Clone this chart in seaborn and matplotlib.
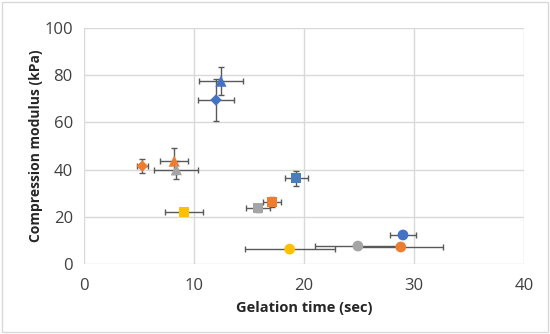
import pandas as pd
import matplotlib.pyplot as plt
import seaborn as sns

# --- Dados ---
gel_time = [29.0, 28.8, 24.9, 18.7, 19.3, 17.1, 15.8, 9.1, 12.0, 5.3, 12.45, 8.2, 8.4]
gel_time_err = [1.2, 3.8, 3.9, 4.1, 1.05, 0.85, 1.1, 1.7, 1.6, 0.5, 2.0, 1.3, 2.0]
modulus = [12.3, 7.2, 7.6, 6.3, 36.4, 26.3, 23.7, 22.0, 69.5, 41.5, 77.5, 43.6, 40.0]
modulus_err = [0.6, 0.5, 0.5, 0.5, 3.2, 2.0, 1.5, 0.6, 9.0, 3.0, 6.0, 5.5, 3.8]
series_color = ['blue', 'orange', 'gray', 'yellow',
                'blue2', 'orange', 'gray', 'yellow',
                'blue', 'orange',
                'blue', 'orange', 'gray']
series_shape = ['circle'] * 4 + ['square'] * 4 + ['diamond'] * 2 + ['triangle'] * 3

df = pd.DataFrame({
    'x': gel_time, 'xerr': gel_time_err,
    'y': modulus, 'yerr': modulus_err,
    'cor': series_color, 'forma': series_shape,
})

palette = {'blue': '#4472C4', 'blue2': '#4A7EBB', 'orange': '#ED7D31',
           'gray': '#A5A5A5', 'yellow': '#FFC000'}
markers = {'circle': 'o', 'square': 's', 'diamond': 'D', 'triangle': '^'}
sizes = {'circle': 60, 'square': 55, 'diamond': 35, 'triangle': 65}

# --- Estilo ---
sns.set_theme(style="white")
plt.rcParams['font.family'] = ['Open Sans', 'DejaVu Sans']

fig = plt.figure(figsize=(5.5, 3.34), dpi=100)
ax = fig.add_axes([0.1527, 0.2096, 0.8, 0.7064])

ax.errorbar(df['x'], df['y'], xerr=df['xerr'], yerr=df['yerr'], fmt='none',
            ecolor='#595959', elinewidth=1, capsize=2.5, capthick=1, zorder=2)

for forma, grp in df.groupby('forma'):
    sns.scatterplot(data=grp, x='x', y='y', hue='cor', palette=palette,
                    marker=markers[forma], s=sizes[forma], linewidth=0,
                    legend=False, ax=ax, zorder=3)

ax.set_xlim(0, 40)
ax.set_ylim(0, 100)
ax.set_xticks([0, 10, 20, 30, 40])
ax.set_yticks([0, 20, 40, 60, 80, 100])
ax.grid(True, color='#D9D9D9', linewidth=1)
ax.set_axisbelow(True)
for s in ax.spines.values():
    s.set_visible(False)
ax.tick_params(axis='both', length=0, labelsize=12, colors='#404040')
ax.tick_params(axis='x', pad=10)
ax.tick_params(axis='y', pad=8)
ax.set_xlabel('Gelation time (sec)', fontsize=10.5, fontweight='bold', color='#262626', labelpad=5)
ax.set_ylabel('Compression modulus (kPa)', fontsize=10, fontweight='bold', color='#262626', labelpad=1)

# moldura externa do gráfico
fig.patches.append(plt.Rectangle((0.004, 0.006), 0.992, 0.988, transform=fig.transFigure,
                                 fill=False, edgecolor='#D9D9D9', linewidth=1))

fig.savefig('out.png', dpi=100)
